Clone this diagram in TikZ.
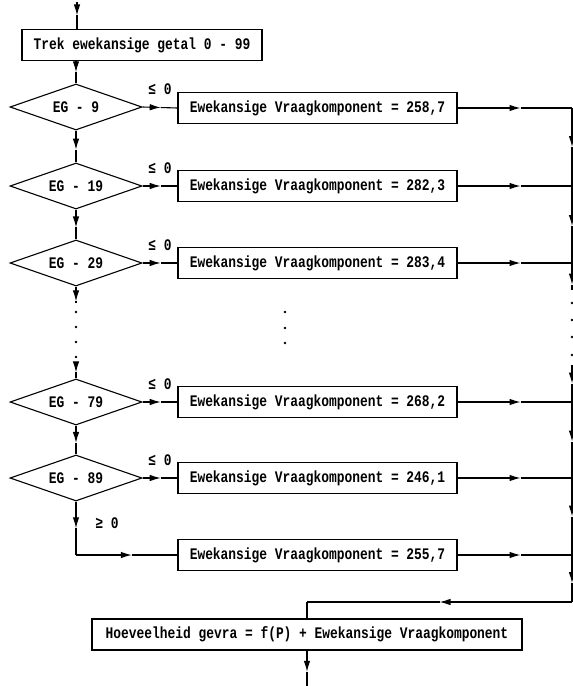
\documentclass[tikz,border=0pt]{standalone}
\usepackage{fontspec}
\usepackage{graphicx}
\setmonofont{Liberation Mono}
\usetikzlibrary{shapes.geometric,arrows.meta}
\newcommand\tallt[1]{\scalebox{1}[1.25]{#1}}
\tikzset{
  lw/.style={line width=1.1pt},
  headtip/.style={-{Latex[length=11pt,width=6.5pt]}},
  txt/.style={font=\ttfamily\bfseries\fontsize{12.9}{14}\selectfont},
  procbox/.style={draw,lw,txt,rectangle,inner sep=0pt,minimum height=31pt},
  decbox/.style={draw,lw,txt,diamond,aspect=2.87,minimum width=132pt,minimum height=46pt,inner sep=0pt},
  lbl/.style={txt},
  dot/.style={circle,fill,inner sep=0pt,minimum size=2.8pt}
}
% connector with an arrowhead part-way along it: from, to, position
\newcommand\arrline[3]{%
  \path (#1) -- (#2) coordinate[pos=#3] (tmpm);
  \draw[lw,headtip] (#1) -- (tmpm);
  \draw[lw] (tmpm) -- (#2);}
\begin{document}
\begin{tikzpicture}[x=1pt,y=-1pt]
\useasboundingbox (0,0) rectangle (573,686);
% top
\coordinate (start) at (77,2);
\node[procbox,minimum width=240pt] (trek) at (142,45) {\tallt{Trek ewekansige getal 0 - 99}};
% decisions
\node[decbox] (d1) at (76,107) {\tallt{EG - 9}};
\node[decbox] (d2) at (76,186) {\tallt{EG - 19}};
\node[decbox] (d3) at (76,263) {\tallt{EG - 29}};
\node[decbox] (d4) at (76,402) {\tallt{EG - 79}};
\node[decbox] (d5) at (76,478) {\tallt{EG - 89}};
% boxes
\node[procbox,minimum width=279pt] (b1) at (317.5,108) {\tallt{Ewekansige Vraagkomponent = 258,7}};
\node[procbox,minimum width=279pt] (b2) at (317.5,186) {\tallt{Ewekansige Vraagkomponent = 282,3}};
\node[procbox,minimum width=279pt] (b3) at (317.5,263) {\tallt{Ewekansige Vraagkomponent = 283,4}};
\node[procbox,minimum width=279pt] (b4) at (317.5,402) {\tallt{Ewekansige Vraagkomponent = 268,2}};
\node[procbox,minimum width=279pt] (b5) at (317.5,478) {\tallt{Ewekansige Vraagkomponent = 246,1}};
\node[procbox,minimum width=279pt] (b6) at (317.5,555) {\tallt{Ewekansige Vraagkomponent = 255,7}};
\node[procbox,minimum width=430pt] (hv) at (307,634.5) {\tallt{Hoeveelheid gevra = f(P) + Ewekansige Vraagkomponent}};
\coordinate (end) at (307,686);
% labels
\foreach \d in {d1,d2,d3,d4,d5}{
  \node[lbl] at ([xshift=84pt,yshift=18pt]\d.center) {\tallt{≤ 0}};
}
\node[lbl] (ge) at (107,523) {\tallt{≥ 0}};
% left column connectors
\coordinate (tn) at (trek.north -| start);
\coordinate (ts) at (trek.south -| d1.north);
\arrline{start}{tn}{0.5}
\arrline{ts}{d1.north}{0.5}
\arrline{d1.south}{d2.north}{0.6}
\arrline{d2.south}{d3.north}{0.6}
\coordinate (lg1) at (76,303);
\coordinate (lg2) at (76,365);
\arrline{d3.south}{lg1}{0.9}
\foreach \yy in {312,327,342,357}{\node[dot] at (76,\yy) {};}
\arrline{lg2}{d4.north}{0.55}
\arrline{d4.south}{d5.north}{0.6}
\coordinate (c5) at (76,555);
\arrline{d5.south}{c5}{0.5}
\arrline{c5}{b6.west}{0.55}
% decision to box
\foreach \i in {1,...,5}{
  \arrline{d\i.east}{b\i.west}{0.52}
}
% middle dots
\foreach \yy in {312,328,343}{\node[dot] at (285,\yy) {};}
% right bus
\coordinate (r1) at (572,108);
\coordinate (r2) at (572,186);
\coordinate (r3) at (572,263);
\coordinate (rg1) at (572,290);
\coordinate (rg2) at (572,365);
\coordinate (r4) at (572,402);
\coordinate (r5) at (572,478);
\coordinate (r6) at (572,555);
\coordinate (r7) at (572,602);
\coordinate (j) at (307,602);
\foreach \i in {1,...,6}{
  \arrline{b\i.east}{r\i}{0.55}
}
\arrline{r1}{r2}{0.5}
\arrline{r2}{r3}{0.52}
\arrline{r3}{rg1}{0.8}
\foreach \yy in {303,320,337,355}{\node[dot] at (572,\yy) {};}
\arrline{rg2}{r4}{0.5}
\arrline{r4}{r5}{0.52}
\arrline{r5}{r6}{0.5}
\arrline{r6}{r7}{0.6}
\arrline{r7}{j}{0.5}
\draw[lw] (j) -- (hv.north);
\arrline{hv.south}{end}{0.6}
\end{tikzpicture}
\end{document}
